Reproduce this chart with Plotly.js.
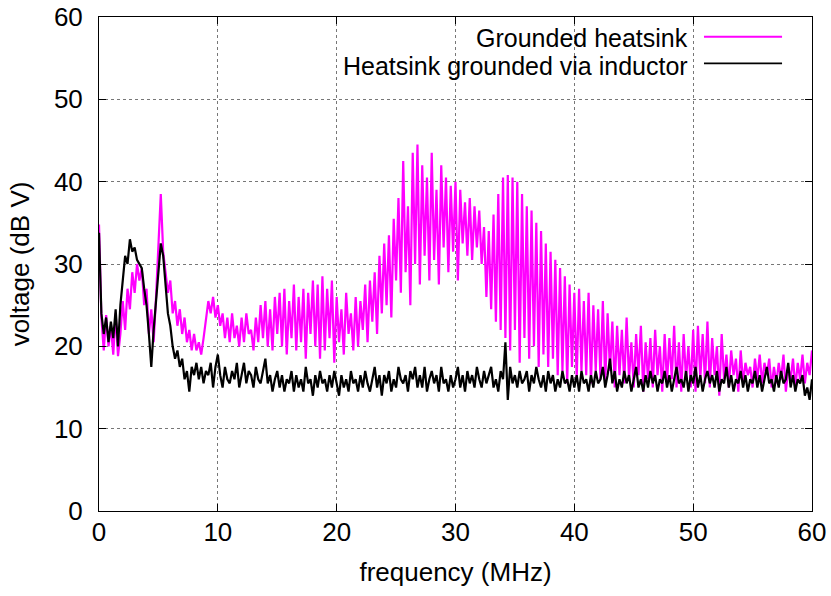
<!DOCTYPE html>
<html>
<head>
<meta charset="utf-8">
<script src="https://cdn.plot.ly/plotly-3.0.1.min.js"></script>
<style>html,body{margin:0;padding:0;background:#fff;}#chart{width:831px;height:596px;}</style>
</head>
<body>
<div id="chart"></div>
<script>
// frequency grid: start 0 MHz, step 0.2 MHz
var freqStart = 0;
var freqStep = 0.2;

var groundedHeatsink = [
  34.8, 23.5, 19.5, 23.8, 20.0,
  22.5, 19.0, 24.0, 18.8, 21.5,
  25.5, 22.0, 27.0, 24.5, 29.0,
  26.5, 30.0, 28.0, 29.5, 25.0,
  27.0, 21.5, 24.5, 20.5, 26.0,
  33.0, 38.5, 31.5, 29.0, 26.5,
  28.0, 24.0, 25.5, 22.5, 24.5,
  21.5, 23.5, 20.5, 22.0, 19.5,
  21.5, 19.5, 20.5, 19.0, 21.0,
  23.0, 25.5, 24.0, 26.0, 23.5,
  25.0, 22.5, 24.0, 21.0, 23.5,
  20.5, 24.0, 21.0, 22.5, 20.0,
  23.5, 20.5, 24.0, 21.5, 22.0,
  19.5, 23.5, 20.5, 25.0, 21.0,
  25.5, 20.0, 24.5, 19.5, 26.0,
  21.5, 26.5, 20.0, 27.0, 19.0,
  25.5, 21.0, 27.5, 19.5, 26.0,
  20.5, 27.0, 18.5, 26.5, 21.5,
  28.0, 20.0, 27.5, 18.5, 28.5,
  19.5, 27.0, 21.0, 28.0, 18.0,
  26.0, 20.5, 24.5, 19.0, 26.5,
  21.5, 24.0, 19.5, 26.0, 20.0,
  25.5, 22.0, 27.5, 20.5, 28.0,
  23.0, 29.0, 21.5, 31.0, 24.0,
  32.5, 25.0, 33.5, 23.5, 35.5,
  28.0, 38.0, 26.5, 42.5, 29.0,
  37.0, 25.0, 43.5, 30.0, 44.5,
  27.5, 42.0, 31.0, 40.5, 28.0,
  43.5, 30.5, 39.0, 27.5, 42.0,
  32.0, 40.5, 29.0, 39.5, 31.5,
  40.0, 28.0, 39.0, 32.5, 37.5,
  31.0, 38.0, 30.5, 37.0, 32.0,
  36.5, 30.0, 34.5, 26.0, 34.0,
  24.5, 36.0, 23.0, 38.5, 22.0,
  40.5, 21.0, 40.8, 19.5, 40.5,
  22.0, 40.0, 18.0, 38.5, 21.0,
  37.0, 18.5, 36.5, 20.0, 35.0,
  17.5, 34.0, 19.0, 32.5, 17.5,
  31.5, 18.5, 30.5, 16.5, 29.5,
  17.0, 28.5, 15.5, 27.5, 17.5,
  26.5, 16.0, 27.0, 17.0, 25.5,
  16.5, 26.5, 15.5, 25.0, 17.0,
  24.5, 16.0, 25.5, 15.5, 24.0,
  17.0, 23.0, 15.0, 22.5, 16.5,
  22.0, 15.5, 23.5, 16.0, 20.5,
  15.0, 21.5, 16.5, 22.5, 14.5,
  20.5, 16.0, 21.0, 15.0, 22.0,
  16.5, 20.0, 14.5, 21.5, 15.5,
  21.0, 16.0, 22.5, 15.0, 20.5,
  14.5, 21.5, 16.0, 20.0, 15.0,
  22.0, 14.5, 22.5, 16.0, 21.5,
  15.5, 23.0, 15.0, 21.0, 16.5,
  20.0, 14.0, 21.5, 16.0, 19.0,
  15.0, 19.5, 16.5, 18.5, 14.5,
  19.5, 15.5, 18.0, 16.5, 17.5,
  15.0, 18.5, 16.0, 19.0, 15.5,
  18.0, 16.5, 18.5, 15.0, 17.5,
  15.5, 18.0, 16.0, 19.0, 14.5,
  17.5, 16.0, 18.5, 15.0, 18.0,
  16.0, 19.0, 15.5, 18.0, 16.5,
  19.5
];

var viaInductor = [
  33.8, 24.0, 21.5, 23.5, 20.5,
  23.0, 21.0, 24.5, 20.0, 25.0,
  28.0, 31.0, 30.0, 33.0, 31.5,
  32.0, 30.5, 30.0, 29.5, 27.0,
  25.0, 21.5, 17.5, 22.0, 25.5,
  29.0, 32.5, 31.0, 27.5, 24.0,
  22.5, 20.0, 18.5, 19.5, 17.5,
  18.5, 16.0, 17.0, 14.5, 17.5,
  16.5, 18.0, 16.0, 17.5, 15.5,
  17.0, 16.5, 18.0, 15.0, 17.5,
  19.0, 16.5, 15.0, 17.5, 16.0,
  15.5, 17.0, 16.0, 18.0, 15.0,
  16.5, 18.0, 15.5, 17.0, 16.5,
  15.0, 17.5, 16.0, 15.5, 17.0,
  18.5, 15.5, 16.5, 14.5, 16.0,
  17.0, 15.0, 16.5, 14.5, 16.0,
  15.5, 17.0, 14.5, 16.5, 15.0,
  16.0, 14.5, 17.5, 15.5, 16.0,
  14.0, 16.5, 15.0, 17.0, 15.5,
  16.0, 14.5, 16.5, 15.0, 17.0,
  15.5, 14.0, 16.5, 15.0, 16.0,
  14.5, 17.0, 15.5, 16.0, 14.5,
  16.5, 15.0, 17.0, 15.5, 14.5,
  16.0, 17.5, 15.0, 16.5, 14.0,
  16.5, 15.5, 17.0, 14.5, 16.0,
  15.0, 17.5, 16.0, 15.5, 16.5,
  14.5, 17.0, 16.0, 17.5, 15.0,
  16.5, 15.0, 17.5, 14.5, 16.0,
  17.0, 15.5, 16.5, 14.5, 17.5,
  15.5, 16.0, 14.5, 16.5, 15.0,
  16.0, 17.5, 15.0, 16.5, 14.5,
  17.0, 15.5, 16.5, 15.0, 17.5,
  16.0, 15.0, 17.0, 15.5, 16.5,
  17.5, 15.0, 16.0, 14.5, 17.0,
  16.0, 20.5, 13.5, 17.5, 15.5,
  16.5, 15.0, 17.0, 15.5, 16.0,
  17.0, 14.5, 16.5, 15.5, 17.5,
  16.0, 15.0, 16.5, 14.5, 17.0,
  15.5, 16.5, 14.5, 16.0, 15.0,
  17.0, 15.5, 16.0, 14.5, 16.5,
  15.0, 16.5, 14.5, 17.0, 15.5,
  16.0, 14.5, 16.5, 15.0, 17.0,
  15.5, 16.0, 17.5, 15.0, 16.5,
  18.5, 15.5, 17.0, 14.5, 16.0,
  15.0, 17.0, 15.5, 16.5, 14.5,
  16.0, 17.5, 15.0, 16.0, 14.5,
  16.5, 15.0, 17.0, 15.5, 16.5,
  14.5, 16.0, 15.5, 17.0, 15.0,
  16.5, 14.5, 16.0, 17.5, 15.5,
  16.0, 15.0, 17.0, 14.5, 16.5,
  15.5, 17.5, 15.0, 16.5, 14.5,
  16.0, 17.0, 15.5, 16.5, 15.0,
  17.0, 14.5, 16.0, 15.5, 17.5,
  15.0, 16.5, 14.5, 16.0, 15.5,
  17.0, 15.0, 16.5, 14.5, 16.0,
  15.5, 17.0, 15.0, 16.5, 14.5,
  16.0, 17.5, 15.5, 16.0, 14.5,
  16.5, 15.0, 17.0, 15.5, 16.0,
  18.0, 15.0, 16.5, 14.5, 16.0,
  15.5, 16.5, 14.0, 15.0, 13.5,
  16.0
];

var seriesNames = ['Grounded heatsink', 'Heatsink grounded via inductor'];
var seriesColors = ['#ff00ff', '#000000'];
var axisTicks = [0, 10, 20, 30, 40, 50, 60];

var FONT = 'Liberation Sans, Arial, Helvetica, sans-serif';
var FS = 26;
var LFS = 25;

var traces = [
  {y: groundedHeatsink, x0: freqStart, dx: freqStep, type: 'scatter', mode: 'lines',
   name: seriesNames[0], line: {color: seriesColors[0], width: 2.2}},
  {y: viaInductor, x0: freqStart, dx: freqStep, type: 'scatter', mode: 'lines',
   name: seriesNames[1], line: {color: seriesColors[1], width: 2.2}}
];

var axisCommon = {
  showline: true, linecolor: '#000', linewidth: 1, mirror: 'ticks',
  ticks: 'inside', ticklen: 7, tickwidth: 1, tickcolor: '#000',
  showgrid: true, gridcolor: '#777', griddash: 'dot', gridwidth: 1,
  zeroline: false, tickfont: {family: FONT, size: FS, color: '#000'},
  tickvals: axisTicks, range: [0, 60], fixedrange: true, automargin: false
};

var layout = {
  width: 831, height: 596,
  margin: {l: 99, r: 19, t: 17, b: 85},
  paper_bgcolor: '#fff', plot_bgcolor: '#fff',
  showlegend: false,
  font: {family: FONT, size: FS, color: '#000'},
  xaxis: Object.assign({}, axisCommon, {
    ticklabelstandoff: -2,
    title: {text: 'frequency (MHz)', font: {family: FONT, size: FS, color: '#000'}, standoff: 16}
  }),
  yaxis: Object.assign({}, axisCommon, {
    ticklabelstandoff: 10,
    title: {text: 'voltage (dB V)', font: {family: FONT, size: FS, color: '#000'}, standoff: 16}
  }),
  annotations: [
    {xref: 'paper', yref: 'paper', x: 0.829, y: 0.9575, xanchor: 'right', yanchor: 'middle',
     text: seriesNames[0], showarrow: false, font: {family: FONT, size: LFS, color: '#000'}},
    {xref: 'paper', yref: 'paper', x: 0.829, y: 0.9005, xanchor: 'right', yanchor: 'middle',
     text: seriesNames[1], showarrow: false, font: {family: FONT, size: LFS, color: '#000'}}
  ],
  shapes: [
    {type: 'line', xref: 'paper', yref: 'paper', x0: 0.8485, x1: 0.958, y0: 0.960, y1: 0.960,
     line: {color: seriesColors[0], width: 1.8}},
    {type: 'line', xref: 'paper', yref: 'paper', x0: 0.8485, x1: 0.958, y0: 0.906, y1: 0.906,
     line: {color: seriesColors[1], width: 1.8}}
  ]
};

Plotly.newPlot('chart', traces, layout, {displayModeBar: false, staticPlot: true});
</script>
</body>
</html>
